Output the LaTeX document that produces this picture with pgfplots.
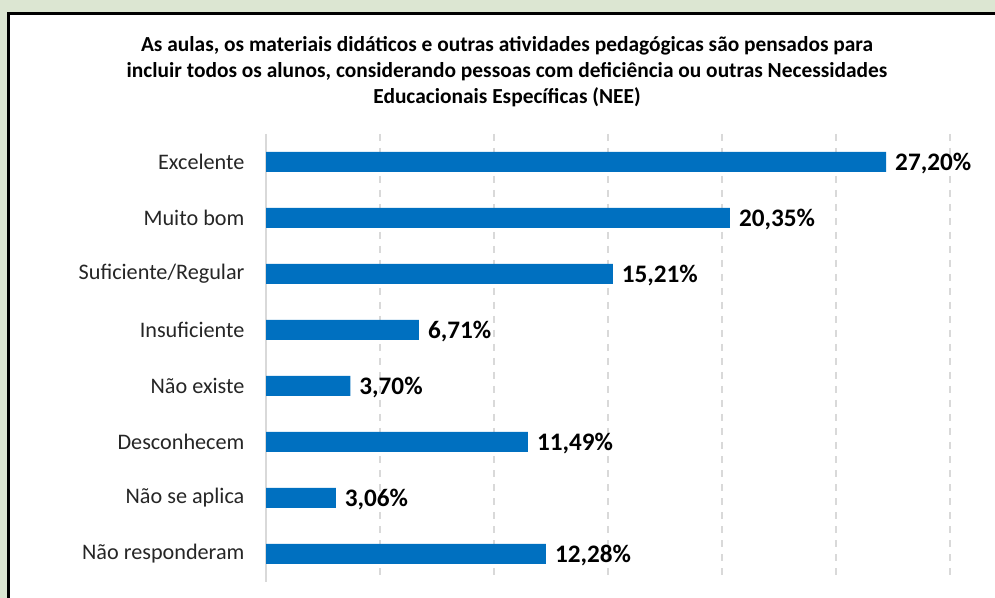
\documentclass[border=0pt]{standalone}
\usepackage{pgfplots}
\pgfplotsset{compat=1.18}
\usepackage{fontspec}
\setmainfont{Carlito}
\definecolor{barblue}{HTML}{0070C0}
\definecolor{bggreen}{HTML}{DCE6D2}
\definecolor{gridgray}{HTML}{D9D9D9}
\definecolor{labelgray}{HTML}{262626}

\begin{document}
\begin{tikzpicture}
% background and frame, in pixel units of the reference
\begin{scope}[x=0.5pt,y=0.5pt]
  \clip (0,0) rectangle (995,598);
  \fill[bggreen] (0,0) rectangle (995,598);
  \fill[white,draw=black,line width=1.5pt] (8,-20) rectangle (1020,584);
  \node[align=center,font=\bfseries\fontsize{10.7}{13}\selectfont,text=black] at (507,526)
    {As aulas, os materiais didáticos e outras atividades pedagógicas são pensados para\\
     incluir todos os alunos, considerando pessoas com deficiência ou outras Necessidades\\
     Educacionais Específicas (NEE)};
\end{scope}
\begin{axis}[
  at={(133pt,8pt)}, anchor=south west,
  scale only axis, width=342pt, height=224pt,
  xbar, bar width=10pt,
  xmin=0, xmax=30, ymin=-0.5, ymax=7.5,
  y dir=reverse,
  ytick={0,...,7},
  yticklabels={Excelente, Muito bom, Suficiente/Regular, Insuficiente, Não existe, Desconhecem, Não se aplica, Não responderam},
  yticklabel style={font=\fontsize{11.1}{13}\selectfont, text=labelgray, xshift=-3pt},
  ytick style={draw=none},
  xtick={5,10,...,30}, xticklabels={}, xtick style={draw=none},
  xmajorgrids,
  grid style={gridgray, line width=1pt, dash pattern=on 3.5pt off 3.5pt},
  extra x ticks={0}, extra x tick labels={},
  extra x tick style={grid style={solid, gridgray, line width=1pt}},
  axis line style={draw=none},
  point meta=x,
  nodes near coords={\pgfmathprintnumber[fixed,fixed zerofill,precision=2,use comma,assume math mode=true]{\pgfplotspointmeta}\%},
  nodes near coords align=horizontal,
  every node near coord/.append style={font=\bfseries\fontsize{12.6}{14}\selectfont, text=black, anchor=west, xshift=1pt, yshift=-1pt},
]
\addplot[fill=barblue, draw=none] coordinates {
  (27.20,0) (20.35,1) (15.21,2) (6.71,3) (3.70,4) (11.49,5) (3.06,6) (12.28,7)
};
\end{axis}
\end{tikzpicture}
\end{document}
